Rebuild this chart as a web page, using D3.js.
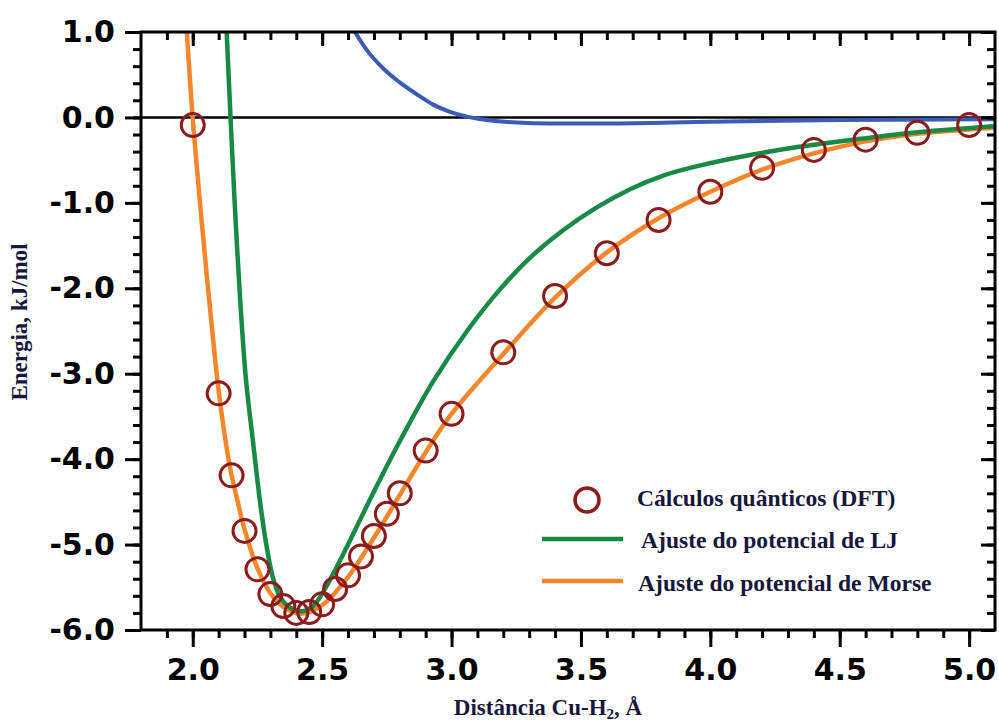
<!DOCTYPE html>
<html>
<head>
<meta charset="utf-8">
<script src="https://cdn.jsdelivr.net/npm/d3@7"></script>
<style>
  html, body { margin: 0; padding: 0; background: #ffffff; }
  svg { display: block; }
</style>
</head>
<body>
<svg id="chart" width="999" height="722"></svg>
<script>
// ---------- data ----------
const dftX = [2.0, 2.1, 2.15, 2.2, 2.25, 2.3, 2.35, 2.4, 2.45, 2.5, 2.55, 2.6, 2.65, 2.7, 2.75, 2.8, 2.9, 3.0, 3.2, 3.4, 3.6, 3.8, 4.0, 4.2, 4.4, 4.6, 4.8, 5.0];
const dftE = [-0.09, -3.23, -4.19, -4.84, -5.29, -5.58, -5.72, -5.80, -5.79, -5.70, -5.52, -5.36, -5.14, -4.90, -4.64, -4.40, -3.90, -3.47, -2.75, -2.09, -1.59, -1.20, -0.87, -0.59, -0.38, -0.26, -0.18, -0.09];

const morseX = [1.965, 1.977, 2.0, 2.028, 2.055, 2.078, 2.098, 2.12, 2.144, 2.17, 2.2, 2.25, 2.3, 2.35, 2.42, 2.5, 2.6, 2.7, 2.8, 2.9, 3.0, 3.2, 3.4, 3.6, 3.8, 4.0, 4.2, 4.4, 4.6, 4.8, 5.0, 5.11];
const morseE = [1.45, 1.0, -0.02, -1.0, -1.88, -2.58, -3.15, -3.65, -4.10, -4.45, -4.82, -5.28, -5.57, -5.73, -5.81, -5.71, -5.38, -4.92, -4.42, -3.92, -3.47, -2.77, -2.11, -1.58, -1.18, -0.87, -0.61, -0.42, -0.28, -0.19, -0.14, -0.12];

const ljX = [2.124, 2.131, 2.146, 2.162, 2.183, 2.205, 2.233, 2.26, 2.287, 2.31, 2.337, 2.376, 2.426, 2.465, 2.503, 2.557, 2.608, 2.674, 2.735, 2.80, 2.929, 3.06, 3.188, 3.304, 3.431, 3.563, 3.69, 3.818, 3.95, 4.154, 4.35, 4.58, 4.81, 5.11];
const ljE = [1.45, 1.0, 0.0, -1.0, -2.12, -3.05, -3.80, -4.50, -5.05, -5.39, -5.61, -5.74, -5.78, -5.72, -5.56, -5.26, -4.95, -4.54, -4.17, -3.79, -3.09, -2.50, -2.01, -1.64, -1.32, -1.05, -0.84, -0.68, -0.57, -0.44, -0.34, -0.25, -0.17, -0.10];

const blueX = [2.60, 2.627, 2.672, 2.737, 2.80, 2.866, 2.929, 2.994, 3.059, 3.122, 3.253, 3.38, 3.6, 4.0, 4.5, 5.11];
const blueE = [1.14, 1.0, 0.79, 0.57, 0.41, 0.27, 0.15, 0.065, 0.01, -0.025, -0.06, -0.07, -0.07, -0.05, -0.03, -0.02];

const xMajorTicks = [2.0, 2.5, 3.0, 3.5, 4.0, 4.5, 5.0];
const yMajorTicks = [1.0, 0.0, -1.0, -2.0, -3.0, -4.0, -5.0, -6.0];
const xMinorTicks = d3.range(19, 51).map(d => d / 10);
const yMinorTicks = d3.range(-30, 6).map(d => d / 5);

const legendLabels = ["Cálculos quânticos (DFT)", "Ajuste do potencial de LJ", "Ajuste do potencial de Morse"];
const yTitle = "Energia, kJ/mol";

// ---------- layout ----------
const L = 141, R = 995, T = 32, B = 630;
const x = d3.scaleLinear().domain([1.8, 5.1]).range([L, R]);
const y = d3.scaleLinear().domain([-6, 1]).range([B, T]);

const svg = d3.select("#chart");
const C = { orange: "#f7862a", green: "#178a46", blue: "#3a5bb8", circ: "#8c1c1c", text: "#17173d" };

svg.append("defs").append("clipPath").attr("id", "plotclip")
  .append("rect").attr("x", L).attr("y", T).attr("width", R - L).attr("height", B - T);

const plot = svg.append("g").attr("clip-path", "url(#plotclip)");

// zero line
plot.append("line")
  .attr("x1", x(1.8)).attr("x2", x(5.1)).attr("y1", y(0)).attr("y2", y(0))
  .attr("stroke", "#000").attr("stroke-width", 2.5);

const line = d3.line().x(d => x(d[0])).y(d => y(d[1])).curve(d3.curveCatmullRom.alpha(0.5));
const lineMono = d3.line().x(d => x(d[0])).y(d => y(d[1])).curve(d3.curveMonotoneX);

plot.append("path").datum(d3.zip(blueX, blueE)).attr("d", lineMono)
  .attr("fill", "none").attr("stroke", C.blue).attr("stroke-width", 4);
plot.append("path").datum(d3.zip(morseX, morseE)).attr("d", line)
  .attr("fill", "none").attr("stroke", C.orange).attr("stroke-width", 4.5);
plot.append("path").datum(d3.zip(ljX, ljE)).attr("d", line)
  .attr("fill", "none").attr("stroke", C.green).attr("stroke-width", 4.5);

svg.append("g").selectAll("circle").data(d3.zip(dftX, dftE)).join("circle")
  .attr("cx", d => x(d[0])).attr("cy", d => y(d[1])).attr("r", 11.5)
  .attr("fill", "none").attr("stroke", C.circ).attr("stroke-width", 3);

// ---------- axes ----------
const tickFont = "'DejaVu Sans', sans-serif";
const fmt = d => d.toFixed(1);
function styleAxis(g) {
  g.select(".domain").remove();
  g.selectAll(".tick line").attr("stroke", "#000").attr("stroke-width", 3);
  g.selectAll(".tick text").attr("font-family", tickFont).attr("font-weight", "bold")
    .attr("font-size", 30).attr("fill", "#000");
}
// bottom
svg.append("g").attr("transform", `translate(0,${B})`)
  .call(d3.axisBottom(x).tickValues(xMinorTicks).tickSize(8).tickFormat("")).call(styleAxis);
svg.append("g").attr("transform", `translate(0,${B})`)
  .call(d3.axisBottom(x).tickValues(xMajorTicks).tickSize(17).tickPadding(12).tickFormat(fmt)).call(styleAxis);
// top (ticks inward)
svg.append("g").attr("transform", `translate(0,${T})`)
  .call(d3.axisBottom(x).tickValues(xMinorTicks).tickSize(8).tickFormat("")).call(styleAxis);
svg.append("g").attr("transform", `translate(0,${T})`)
  .call(d3.axisBottom(x).tickValues(xMajorTicks).tickSize(14).tickFormat("")).call(styleAxis);
// left
svg.append("g").attr("transform", `translate(${L},0)`)
  .call(d3.axisLeft(y).tickValues(yMinorTicks).tickSize(8).tickFormat("")).call(styleAxis);
svg.append("g").attr("transform", `translate(${L},0)`)
  .call(d3.axisLeft(y).tickValues(yMajorTicks).tickSize(16).tickPadding(10).tickFormat(fmt)).call(styleAxis);
// right (ticks inward)
svg.append("g").attr("transform", `translate(${R},0)`)
  .call(d3.axisLeft(y).tickValues(yMinorTicks).tickSize(8).tickFormat("")).call(styleAxis);
svg.append("g").attr("transform", `translate(${R},0)`)
  .call(d3.axisLeft(y).tickValues(yMajorTicks).tickSize(14).tickFormat("")).call(styleAxis);

// frame
svg.append("rect").attr("x", L).attr("y", T).attr("width", R - L).attr("height", B - T)
  .attr("fill", "none").attr("stroke", "#000").attr("stroke-width", 3);

// ---------- titles ----------
const serif = "'Liberation Serif', 'Times New Roman', serif";
svg.append("text")
  .attr("transform", `translate(27,322) rotate(-90)`)
  .attr("text-anchor", "middle")
  .attr("font-family", serif).attr("font-weight", "bold").attr("font-size", 23)
  .attr("fill", C.text).text(yTitle);

const xt = svg.append("text")
  .attr("x", 548).attr("y", 715).attr("text-anchor", "middle")
  .attr("font-family", serif).attr("font-weight", "bold").attr("font-size", 23)
  .attr("fill", C.text);
xt.append("tspan").text("Distância Cu-H");
xt.append("tspan").attr("font-size", 15).attr("dy", 4).text("2");
xt.append("tspan").attr("dy", -4).text(", Å");

// ---------- legend ----------
const lg = svg.append("g");
lg.append("circle").attr("cx", 587).attr("cy", 500).attr("r", 12)
  .attr("fill", "none").attr("stroke", C.circ).attr("stroke-width", 3.5);
lg.append("line").attr("x1", 542).attr("x2", 623).attr("y1", 539).attr("y2", 539)
  .attr("stroke", C.green).attr("stroke-width", 4.5);
lg.append("line").attr("x1", 542).attr("x2", 623).attr("y1", 581).attr("y2", 581)
  .attr("stroke", C.orange).attr("stroke-width", 4.5);
const legY = [506, 548, 591];
const legX = [637, 641, 638];
lg.selectAll("text.leg").data(legendLabels).join("text").attr("class", "leg")
  .attr("x", (d, i) => legX[i]).attr("y", (d, i) => legY[i])
  .attr("font-family", serif).attr("font-weight", "bold").attr("font-size", 23.6)
  .attr("fill", C.text).text(d => d);
</script>
</body>
</html>
